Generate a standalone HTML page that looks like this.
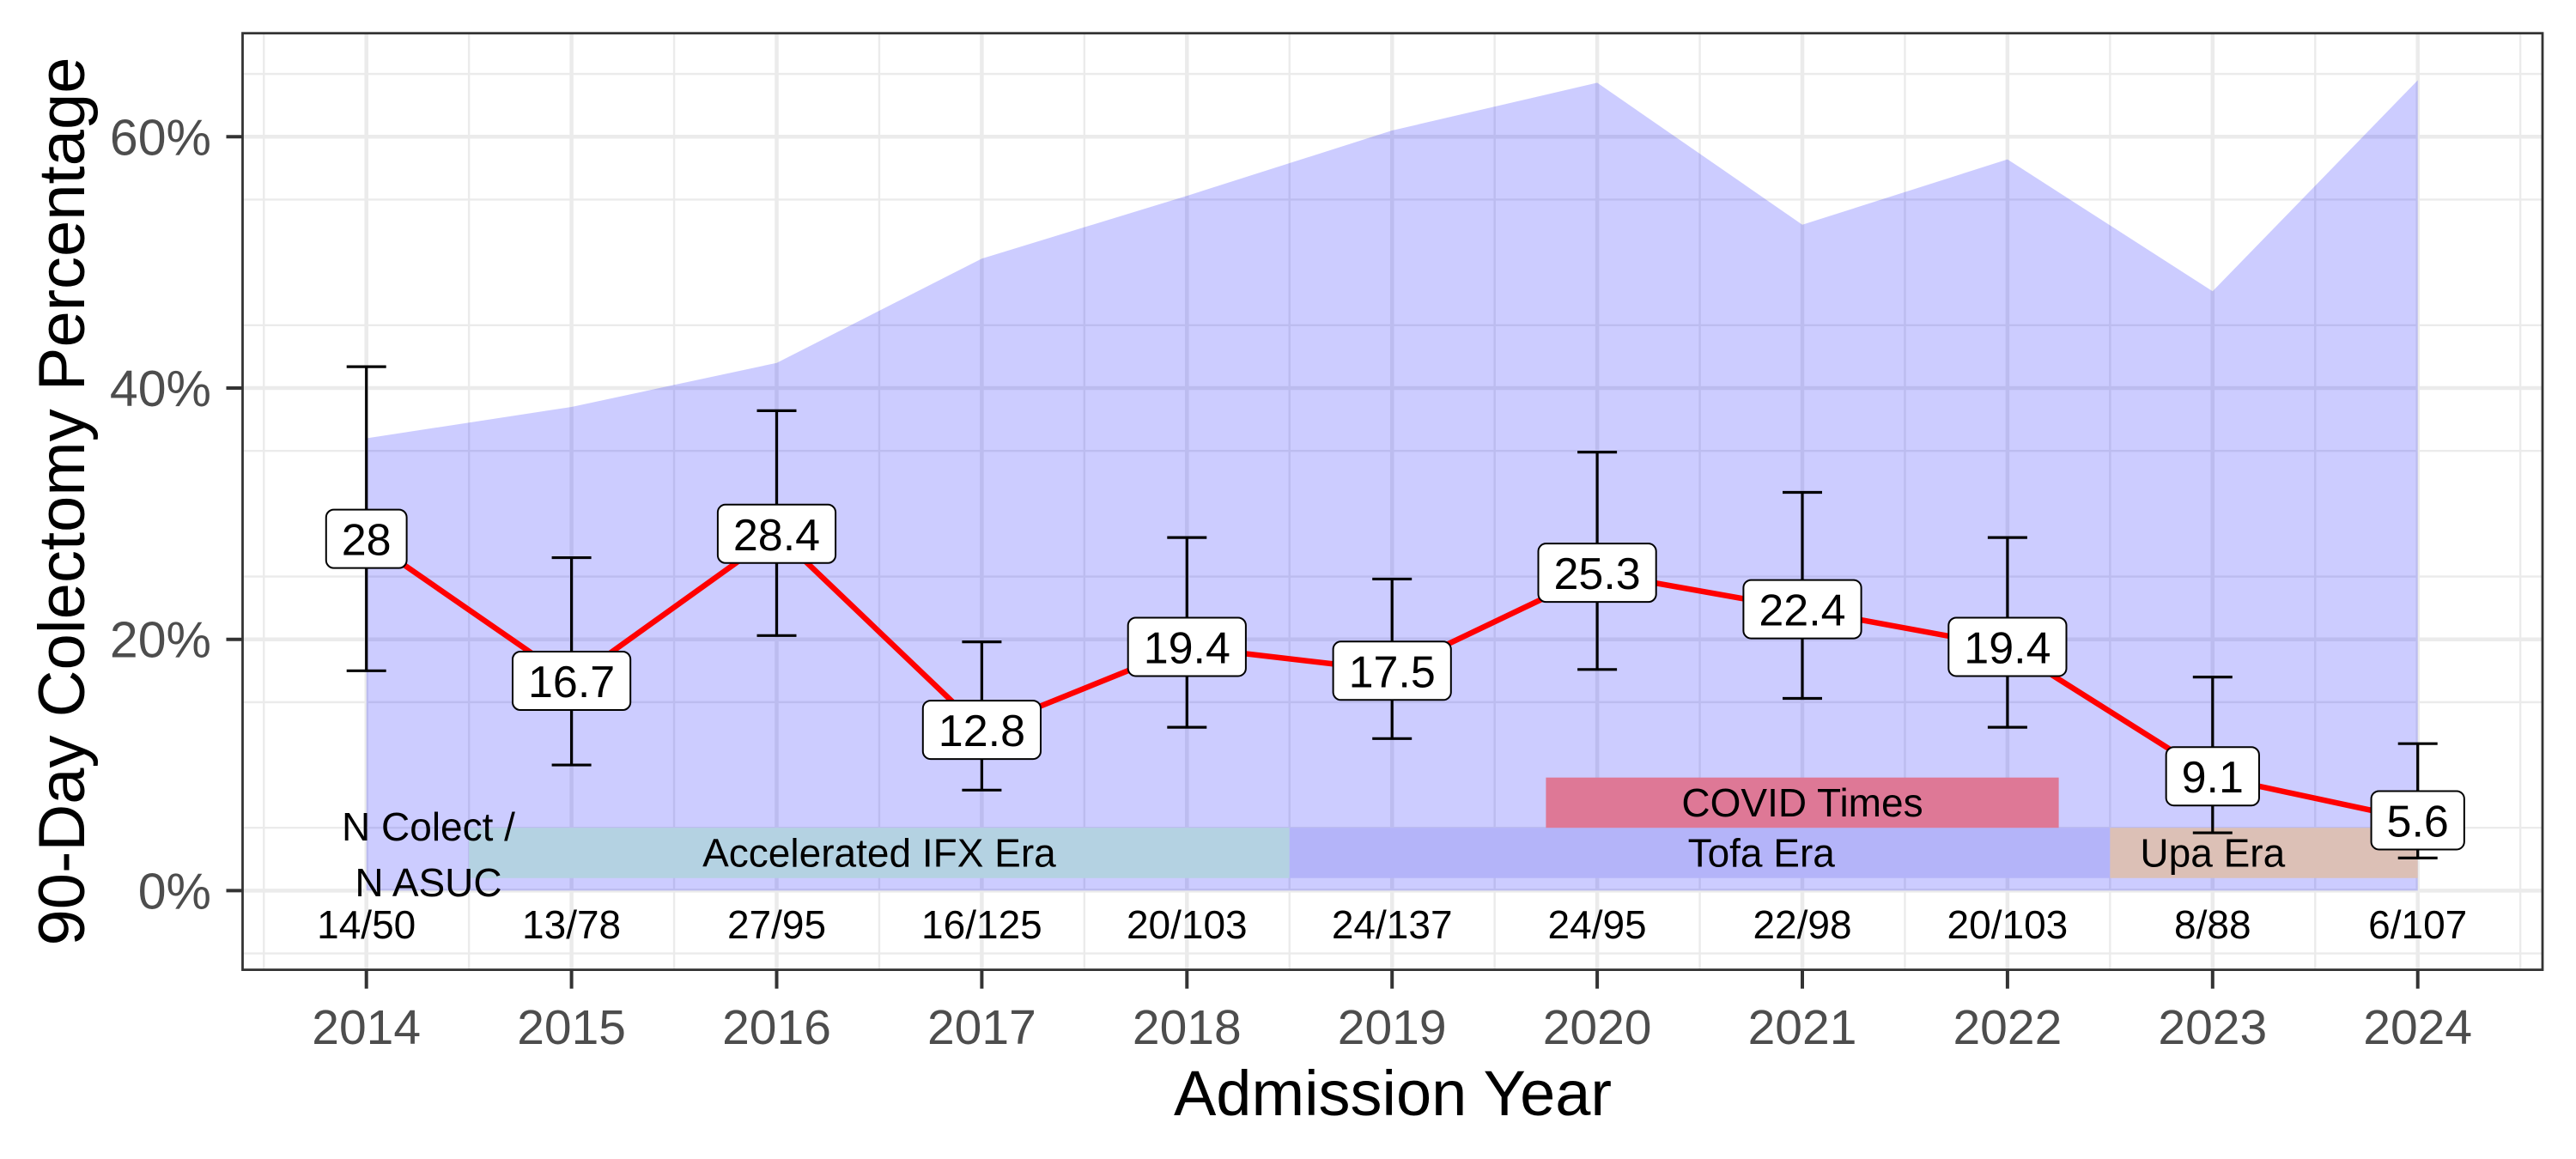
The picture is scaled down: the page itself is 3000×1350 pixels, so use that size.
<!DOCTYPE html>
<html><head><meta charset="utf-8"><style>
html,body{margin:0;padding:0;background:#fff;}
svg{display:block;font-family:"Liberation Sans",sans-serif;}
</style></head><body>
<svg id="chart" width="3000" height="1350" viewBox="0 0 3000 1350" xmlns="http://www.w3.org/2000/svg"></svg>
<script>
const years = [2014,2015,2016,2017,2018,2019,2020,2021,2022,2023,2024];
const pct = [28,16.7,28.4,12.8,19.4,17.5,25.3,22.4,19.4,9.1,5.6];
const pctLabels = ["28","16.7","28.4","12.8","19.4","17.5","25.3","22.4","19.4","9.1","5.6"];
const ciLow = [17.5,10,20.3,8,13,12.1,17.6,15.3,13,4.6,2.6];
const ciHigh = [41.7,26.5,38.2,19.8,28.1,24.8,34.9,31.7,28.1,17,11.7];
const ribbonHigh = [36,38.5,42,50.3,55.3,60.5,64.3,53,58.2,47.7,64.5];
const nLabels = ["14/50","13/78","27/95","16/125","20/103","24/137","24/95","22/98","20/103","8/88","6/107"];
const yTicks = [0,20,40,60];
const yTickLabels = ["0%","20%","40%","60%"];
const eraNames = ["Accelerated IFX Era","Tofa Era","Upa Era","COVID Times"];
const eraStart = [2014.5,2018.5,2022.5,2019.75];
const eraEnd = [2018.5,2022.5,2024,2022.25];
const eraLow = [1,1,1,5];
const eraHigh = [5,5,5,9];
const eraTextX = [2016.5,2020.8,2023,2021];
const eraTextY = [3,3,3,7];
const eraColors = ["#b4d2e2","#b4b4f9","#dcc0b6","#de7896"];

const NS="http://www.w3.org/2000/svg";
const svg=document.getElementById('chart');
const PL=282.5,PR=2961,PT=38.7,PB=1129.6;
const x=v=>426.7+(v-2014)*238.9;
const y=v=>1037.4-v*14.635;
function el(tag,attrs,parent){const e=document.createElementNS(NS,tag);for(const k in attrs)e.setAttribute(k,attrs[k]);(parent||svg).appendChild(e);return e;}
function txt(s,attrs,parent){const e=el('text',attrs,parent);e.textContent=s;return e;}

// grid
const grid=el('g',{});


for(let v=-5;v<=65;v+=10){if(y(v)<PB&&y(v)>PT)el('line',{x1:PL,x2:PR,y1:y(v),y2:y(v),stroke:'#ebebeb','stroke-width':2.4},grid);}
for(let yr=2013.5;yr<=2024.6;yr+=1){el('line',{x1:x(yr),x2:x(yr),y1:PT,y2:PB,stroke:'#ebebeb','stroke-width':2.4},grid);}
yTicks.forEach(v=>el('line',{x1:PL,x2:PR,y1:y(v),y2:y(v),stroke:'#ebebeb','stroke-width':4.5},grid));
years.forEach(v=>el('line',{x1:x(v),x2:x(v),y1:PT,y2:PB,stroke:'#ebebeb','stroke-width':4.5},grid));

// ribbon
let d='M'+x(years[0])+','+y(0);
years.forEach((yr,i)=>{d+=' L'+x(yr)+','+y(ribbonHigh[i]);});
d+=' L'+x(years[years.length-1])+','+y(0)+' Z';
const rib=el('path',{d:d,fill:'#0000ff','fill-opacity':0.2});



// eras
eraNames.forEach((n,i)=>{
  const r=el('rect',{x:x(eraStart[i]),y:y(eraHigh[i]),width:x(eraEnd[i])-x(eraStart[i]),height:y(eraLow[i])-y(eraHigh[i]),fill:eraColors[i]});
  
  
});
eraNames.forEach((n,i)=>{
  const t=txt(n,{x:x(eraTextX[i]),y:y(eraTextY[i])+16,'font-size':46,'text-anchor':'middle',fill:'#000'});
  
  
});

// N labels
const nc=txt('N Colect /',{x:499,y:979,'font-size':46,'text-anchor':'middle'});


const na=txt('N ASUC',{x:499,y:1044,'font-size':46,'text-anchor':'middle'});


nLabels.forEach((n,i)=>{
  const t=txt(n,{x:x(years[i]),y:1093,'font-size':46,'text-anchor':'middle'});
  
  
});

// line
let ld='';
years.forEach((yr,i)=>{ld+=(i?' L':'M')+x(yr)+','+y(pct[i]);});
const line=el('path',{d:ld,fill:'none',stroke:'#ff0000','stroke-width':6.5});



// error bars
years.forEach((yr,i)=>{
  const g=el('g',{stroke:'#000','stroke-width':3.2});
  
  
  const cx=x(yr);
  el('line',{x1:cx,x2:cx,y1:y(ciLow[i]),y2:y(ciHigh[i])},g);
  el('line',{x1:cx-23,x2:cx+23,y1:y(ciLow[i]),y2:y(ciLow[i])},g);
  el('line',{x1:cx-23,x2:cx+23,y1:y(ciHigh[i]),y2:y(ciHigh[i])},g);
});

// labels
years.forEach((yr,i)=>{
  const g=el('g',{});
  
  
  const s=pctLabels[i];
  let em=0; for(const c of s) em+=(c==='.'?0.278:0.556);
  const w=em*52+36;
  el('rect',{x:x(yr)-w/2,y:y(pct[i])-34,width:w,height:68,rx:9,fill:'#fff',stroke:'#000','stroke-width':2},g);
  txt(s,{x:x(yr),y:y(pct[i])+19,'font-size':52,'text-anchor':'middle'},g);
});

// panel border
const pb=el('rect',{x:PL,y:PT,width:PR-PL,height:PB-PT,fill:'none',stroke:'#333','stroke-width':2.8});



// axes ticks
years.forEach((yr,i)=>{
  el('line',{x1:x(yr),x2:x(yr),y1:PB,y2:PB+22,stroke:'#333','stroke-width':4});
  const t=txt(String(yr),{x:x(yr),y:1216,'font-size':57,'text-anchor':'middle',fill:'#4d4d4d'});
  
  
});
yTicks.forEach((v,i)=>{
  el('line',{x1:PL-19,x2:PL,y1:y(v),y2:y(v),stroke:'#333','stroke-width':4});
  const t=txt(yTickLabels[i],{x:246,y:y(v)+21,'font-size':59,'text-anchor':'end',fill:'#4d4d4d'});
  
  
});
const xt=txt('Admission Year',{x:1622,y:1299,'font-size':74,'text-anchor':'middle'});


const yt=txt('90-Day Colectomy Percentage',{x:0,y:0,'font-size':76,'text-anchor':'middle',transform:'translate(98,584) rotate(-90)'});


</script>
</body></html>
